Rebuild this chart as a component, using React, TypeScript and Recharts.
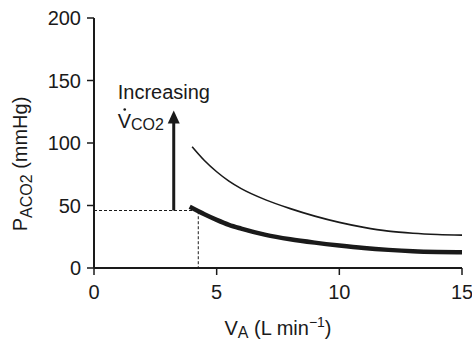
import React from 'react';
import { LineChart, Line, XAxis, YAxis, ReferenceLine, ReferenceDot } from 'recharts';

// alveolar ventilation (L/min) vs alveolar PCO2 (mmHg)
const thinVA = [4, 4.5, 5, 5.5, 6, 7, 8, 9, 10, 11, 12, 13, 14, 15];
const thinPCO2 = [97, 86, 77, 69.5, 63.5, 54.5, 47.5, 41.5, 36.5, 32.5, 29.5, 27.8, 26.8, 26.3];
const thickVA = [3.9, 4.5, 5, 5.5, 6, 7, 8, 9, 10, 11, 12, 13, 14, 15];
const thickPCO2 = [49, 43, 38.5, 34.5, 31.5, 26.5, 23, 20.3, 18, 16, 14.5, 13.4, 12.8, 12.5];

// dashed guide to the operating point
const guideVA = [0, 4.25, 4.25];
const guidePCO2 = [46, 46, 0];

// arrow showing increasing VCO2
const arrowVA = 3.25;
const arrowFrom = 46;
const arrowTo = 122;
const arrowTip = 126;

const xTicks = [0, 5, 10, 15];
const yTicks = [0, 50, 100, 150, 200];

const zip = (xs: number[], ys: number[]) => xs.map((x, i) => ({ x, y: ys[i] }));
const thinData = zip(thinVA, thinPCO2);
const thickData = zip(thickVA, thickPCO2);
const guideData = zip(guideVA, guidePCO2);

const font = '"Liberation Sans", Arial, Helvetica, sans-serif';
const ink = '#1a1a1a';

const YLabel = () => {
  const cx = 27;
  const cy = 164;
  return (
    <text
      x={cx}
      y={cy}
      transform={`rotate(-90, ${cx}, ${cy})`}
      textAnchor="middle"
      fontSize={20}
      fill={ink}
      fontFamily={font}
    >
      P
      <tspan fontSize={16} dy={5}>ACO2</tspan>
      <tspan dy={-5}> (mmHg)</tspan>
    </text>
  );
};

const XLabel = ({ viewBox }: any) => {
  const cx = viewBox.x + viewBox.width / 2;
  return (
    <text x={cx} y={335} textAnchor="middle" fontSize={20} fill={ink} fontFamily={font}>
      V
      <tspan fontSize={16} dy={3}>A</tspan>
      <tspan dy={-3}> (L min</tspan>
      <tspan fontSize={14} dy={-8}>−1</tspan>
      <tspan dy={8}>)</tspan>
    </text>
  );
};

const ArrowHead = ({ cx, cy }: any) => (
  <path d={`M${cx},${cy} L${cx - 6},${cy + 13} L${cx + 6},${cy + 13} Z`} fill={ink} />
);

const Caption = ({ cx, cy }: any) => (
  <g fontFamily={font} fill={ink}>
    <text x={cx - 56} y={cy - 12} fontSize={20}>Increasing</text>
    <text x={cx - 56} y={cy + 17} fontSize={20}>
      V
      <tspan fontSize={16} dy={2}>CO2</tspan>
    </text>
    <circle cx={cx - 49} cy={cy - 1} r={1.3} fill={ink} />
  </g>
);

export default function App() {
  return (
    <div style={{ position: 'absolute', left: 0, top: 0, background: '#fff' }}>
      <LineChart width={472} height={342} margin={{ top: 18, right: 10, bottom: 0, left: 0 }}>
        <XAxis
          type="number"
          dataKey="x"
          domain={[0, 15]}
          ticks={xTicks}
          allowDataOverflow
          height={74}
          tickSize={7}
          tickMargin={10}
          axisLine={{ stroke: ink, strokeWidth: 2 }}
          tickLine={{ stroke: ink, strokeWidth: 1.5 }}
          tick={{ fill: ink, fontSize: 20, fontFamily: font }}
          label={<XLabel />}
        />
        <YAxis
          type="number"
          dataKey="y"
          domain={[0, 200]}
          ticks={yTicks}
          allowDataOverflow
          width={94}
          tickSize={7}
          tickMargin={6}
          axisLine={{ stroke: ink, strokeWidth: 2 }}
          tickLine={{ stroke: ink, strokeWidth: 1.5 }}
          tick={{ fill: ink, fontSize: 20, fontFamily: font }}
          label={<YLabel />}
        />
        <Line
          data={guideData}
          dataKey="y"
          type="linear"
          stroke={ink}
          strokeWidth={1}
          strokeDasharray="3 2"
          dot={false}
          isAnimationActive={false}
        />
        <Line
          data={thinData}
          dataKey="y"
          type="monotone"
          stroke={ink}
          strokeWidth={1.6}
          dot={false}
          isAnimationActive={false}
        />
        <Line
          data={thickData}
          dataKey="y"
          type="monotone"
          stroke={ink}
          strokeWidth={4.5}
          dot={false}
          isAnimationActive={false}
        />
        <ReferenceLine
          segment={[
            { x: arrowVA, y: arrowFrom },
            { x: arrowVA, y: arrowTo },
          ]}
          stroke={ink}
          strokeWidth={3}
        />
        <ReferenceDot x={arrowVA} y={arrowTip} r={0} shape={<ArrowHead />} />
        <ReferenceDot x={arrowVA} y={arrowTip} r={0} shape={<Caption />} />
      </LineChart>
    </div>
  );
}
